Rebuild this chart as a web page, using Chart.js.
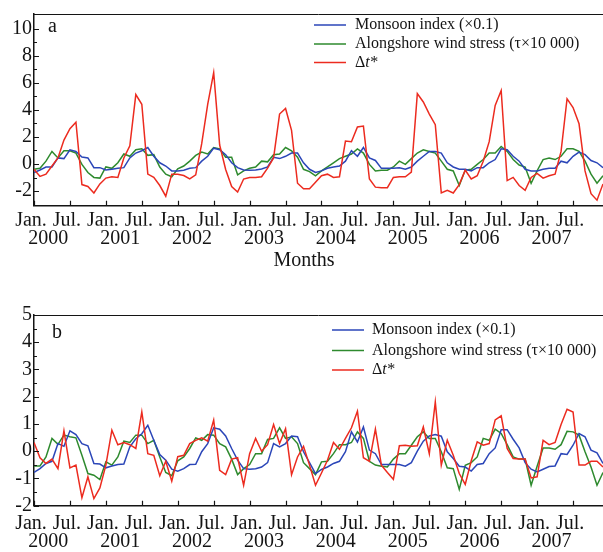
<!DOCTYPE html>
<html>
<head>
<meta charset="utf-8">
<title>Monsoon index, alongshore wind stress and Δt*</title>
<script src="https://cdn.jsdelivr.net/npm/chart.js@4.4.1/dist/chart.umd.min.js"></script>
<style>
    html, body { margin: 0; padding: 0; background: #fff; }
    body { width: 603px; height: 552px; position: relative; overflow: hidden; }
    .panel { position: absolute; left: 0; }
    #wrapA { top: 0; }
    #wrapB { top: 290px; }
</style>
</head>
<body>
<div class="panel" id="wrapA"><canvas id="chartA" width="603" height="280"></canvas></div>
<div class="panel" id="wrapB"><canvas id="chartB" width="603" height="262"></canvas></div>
<script>
// Datos: un valor por mes, desde enero 2000
const monthLabels = ['Jan.', 'Jul.'];
const yearLabels = ['2000', '2001', '2002', '2003', '2004', '2005', '2006', '2007'];
const yTicksA = [-2, 0, 2, 4, 6, 8, 10];
const yTicksB = [-2, -1, 0, 1, 2, 3, 4, 5];
const seriesNames = ['Monsoon index (×0.1)', 'Alongshore wind stress (τ×10 000)', 'Δt*'];

// Panel a
const monsoonA = [
    -0.63, -0.44, -0.22, -0.22, 0.45, 0.40, 1.05, 0.93, 0.52, 0.45, -0.27, -0.27,
    -0.44, -0.39, -0.32, -0.27, 0.45, 0.81, 0.98, 1.22, 0.57, 0.09, -0.15, -0.51,
    -0.51, -0.46, -0.32, -0.27, 0.21, 0.57, 1.17, 1.05, 0.69, 0.09, -0.27, -0.44,
    -0.46, -0.44, -0.37, -0.22, 0.50, 0.40, 0.57, 0.81, 0.81, 0.09, -0.39, -0.63,
    -0.51, -0.32, -0.22, -0.15, 0.21, 0.98, 0.57, 1.22, 0.45, 0.26, -0.32, -0.32,
    -0.32, -0.27, -0.39, -0.22, 0.21, 0.57, 0.93, 0.93, 0.81, 0.09, -0.22, -0.39,
    -0.39, -0.51, -0.27, -0.27, 0.09, 0.33, 1.12, 1.05, 0.57, 0.21, -0.39, -0.51,
    -0.51, -0.39, -0.32, -0.32, 0.21, 0.09, 0.57, 0.88, 0.69, 0.26, 0.09, -0.27
];
const windA = [
    -0.39, -0.32, 0.21, 0.93, 0.45, 0.98, 0.98, 0.81, -0.03, -0.63, -0.99, -1.04,
    -0.22, -0.32, 0.09, 0.74, 0.57, 1.05, 1.12, 0.64, 0.69, -0.22, -0.75, -0.94,
    -0.35, -0.15, 0.21, 0.64, 0.88, 0.74, 1.22, 1.12, 0.50, 0.50, -0.80, -0.51,
    -0.32, -0.22, 0.21, 0.16, 0.69, 0.74, 1.22, 0.98, 0.50, -0.39, -0.56, -0.87,
    -0.51, -0.22, 0.09, 0.40, 0.57, 0.74, 1.12, 0.81, -0.03, -0.51, -0.46, -0.46,
    -0.22, 0.21, -0.03, 0.40, 0.81, 1.05, 0.93, 0.81, 0.21, -0.39, -0.51, -1.59,
    -0.45, -0.39, -0.03, 0.33, 0.81, 0.81, 1.29, 0.93, 0.33, -0.08, -0.22, -1.42,
    -0.50, 0.33, 0.45, 0.33, 0.57, 1.12, 1.12, 0.93, 0.21, -0.75, -1.42, -0.87
];
const dtA = [
    -0.39, -0.92, -0.75, -0.15, 0.45, 1.77, 2.61, 3.09, -1.52, -1.66, -2.14, -1.47,
    -1.04, -0.94, -0.99, 0.45, 1.35, 5.13, 4.41, -0.75, -0.99, -1.59, -2.38, -0.75,
    -0.75, -0.85, -1.10, -0.80, 1.50, 4.40, 6.75, 1.40, -0.40, -1.66, -2.07, -1.11,
    -0.99, -0.99, -0.94, -0.30, 0.45, 3.69, 4.10, 2.49, -1.42, -1.83, -1.83, -1.35,
    -0.87, -0.75, -0.99, -0.94, 1.69, 1.65, 2.73, 2.80, -1.11, -1.71, -1.75, -1.75,
    -0.99, -0.94, -0.94, -0.60, 5.20, 4.58, 3.69, 2.90, -2.14, -1.95, -2.14, -1.52,
    -0.45, -1.11, -0.87, 0.21, 1.65, 4.33, 5.43, -1.23, -0.99, -1.59, -1.95, -0.99,
    -0.70, -1.04, -0.87, -0.75, 0.93, 4.82, 4.17, 2.97, -0.51, -2.19, -2.67, -1.47
];

// Panel b
const monsoonB = [
    -0.78, -0.64, -0.45, -0.37, 0.28, 0.18, 0.75, 0.61, 0.28, 0.20, -0.45, -0.47,
    -0.61, -0.54, -0.49, -0.47, 0.16, 0.46, 0.64, 0.95, 0.40, -0.12, -0.33, -0.66,
    -0.73, -0.64, -0.49, -0.48, -0.02, 0.28, 0.86, 0.81, 0.56, 0.10, -0.33, -0.64,
    -0.66, -0.64, -0.58, -0.42, 0.28, 0.16, 0.28, 0.56, 0.53, -0.02, -0.42, -0.82,
    -0.67, -0.58, -0.45, -0.37, -0.02, 0.71, 0.34, 0.89, 0.04, -0.09, -0.49, -0.49,
    -0.49, -0.49, -0.55, -0.42, 0.00, 0.37, 0.56, 0.61, 0.55, -0.02, -0.27, -0.55,
    -0.58, -0.73, -0.49, -0.45, -0.09, 0.12, 0.79, 0.79, 0.44, 0.12, -0.42, -0.66,
    -0.76, -0.66, -0.56, -0.54, -0.09, -0.12, 0.22, 0.65, 0.53, 0.04, -0.06, -0.45
];
const windB = [
    -0.54, -0.54, -0.21, 0.47, 0.25, 0.59, 0.53, 0.49, -0.15, -0.82, -0.88, -1.04,
    -0.39, -0.51, -0.21, 0.37, 0.32, 0.59, 0.59, 0.28, 0.40, -0.21, -0.78, -0.90,
    -0.35, -0.21, 0.10, 0.49, 0.40, 0.61, 0.59, 0.28, 0.16, -0.29, -0.86, -0.64,
    -0.49, -0.09, -0.09, 0.43, 0.47, 0.86, 0.47, 0.53, 0.28, -0.42, -0.64, -0.86,
    -0.39, -0.37, -0.09, 0.24, 0.24, 0.32, 0.71, 0.47, -0.37, -0.51, -0.55, -0.58,
    -0.29, -0.09, -0.09, 0.22, 0.53, 0.71, 0.47, 0.47, -0.02, -0.61, -0.64, -1.40,
    -0.52, -0.42, -0.21, 0.47, 0.40, 0.81, 0.65, 0.24, -0.21, -0.29, -0.29, -1.25,
    -0.55, 0.12, 0.12, 0.07, 0.24, 0.73, 0.71, 0.59, -0.02, -0.58, -1.25, -0.78
];
const dtB = [
    0.32, -0.24, -0.45, -0.29, -0.64, 0.75, -0.61, -0.51, -1.71, -0.94, -1.74, -1.35,
    -0.51, 0.77, 0.24, 0.32, 0.24, 0.10, 1.44, -0.09, -0.15, -0.90, -0.37, -1.10,
    -0.20, -0.15, 0.28, 0.40, 0.49, 0.37, 1.14, -0.70, -0.86, -0.29, -0.24, -1.25,
    -0.09, 0.47, 0.00, 0.24, 0.98, 0.28, 0.83, -0.86, -0.21, 0.18, -0.51, -1.25,
    -0.80, -0.33, 0.32, 0.07, 0.47, 0.86, 1.47, -0.24, -0.37, 0.81, -0.51, -0.78,
    -1.03, 0.20, 0.22, 0.18, 0.20, 0.89, -0.09, 1.81, -0.51, 0.40, -0.15, -0.82,
    -1.22, -0.35, 0.34, 0.22, 0.28, 1.15, 1.30, 0.10, -0.27, -0.29, -0.29, -0.98,
    -0.94, 0.40, 0.24, 0.32, 0.98, 1.54, 1.44, -0.51, -0.51, -0.37, -0.37, -0.58
];

(function() {
    'use strict';

    const SERIF = '"Liberation Serif", "Times New Roman", serif';
    const INK = '#141414';
    const colors = ['#2b46b8', '#2e8a2e', '#ec2b1f'];

    function toPoints(values) {
        return values.map(function(v, i) {
            return { x: i, y: v };
        });
    }

    // Marcas hacia dentro, borde superior, leyenda y textos sueltos
    const decorPlugin = {
        id: 'decor',
        afterDraw: function(chart, args, o) {
            const ctx = chart.ctx;
            const area = chart.chartArea;
            const xs = chart.scales.x;
            const ys = chart.scales.y;

            ctx.save();
            ctx.strokeStyle = INK;
            ctx.lineWidth = 1;

            ctx.beginPath();
            ctx.moveTo(area.left, area.top + 0.5);
            ctx.lineTo(area.right, area.top + 0.5);
            ctx.stroke();

            ctx.lineWidth = 1.2;
            ctx.beginPath();
            xs.ticks.forEach(function(t) {
                const px = Math.round(xs.getPixelForValue(t.value)) + 0.5;
                ctx.moveTo(px, area.bottom);
                ctx.lineTo(px, area.bottom - 5);
            });
            ys.ticks.forEach(function(t) {
                const py = Math.round(ys.getPixelForValue(t.value)) + 0.5;
                ctx.moveTo(area.left, py);
                ctx.lineTo(area.left + 5, py);
            });
            for (let v = o.minorFrom; v <= o.minorTo + 1e-9; v += o.minorStep * 2) {
                const py = Math.round(ys.getPixelForValue(v)) + 0.5;
                ctx.moveTo(area.left, py);
                ctx.lineTo(area.left + 3, py);
            }
            ctx.stroke();

            // letra del panel
            ctx.fillStyle = INK;
            ctx.textBaseline = 'middle';
            ctx.textAlign = 'left';
            ctx.font = '20px ' + SERIF;
            ctx.fillText(o.letter, o.letterX, o.letterY);

            if (o.title) {
                ctx.textAlign = 'center';
                ctx.fillText(o.title, o.titleX, o.titleY);
            }

            // leyenda
            ctx.textAlign = 'left';
            chart.data.datasets.forEach(function(ds, i) {
                const y = o.legendRows[i];
                ctx.strokeStyle = ds.borderColor;
                ctx.lineWidth = 1.5;
                ctx.beginPath();
                ctx.moveTo(o.legendX1, y);
                ctx.lineTo(o.legendX2, y);
                ctx.stroke();

                ctx.fillStyle = INK;
                if (ds.label === 'Δt*') {
                    let x = o.legendTextX;
                    ctx.font = '16px ' + SERIF;
                    ctx.fillText('Δ', x, y);
                    x += ctx.measureText('Δ').width;
                    ctx.font = 'italic 16px ' + SERIF;
                    ctx.fillText('t', x, y);
                    x += ctx.measureText('t').width + 0.5;
                    ctx.font = '16px ' + SERIF;
                    ctx.fillText('*', x, y);
                } else {
                    ctx.font = '16px ' + SERIF;
                    ctx.fillText(ds.label, o.legendTextX, y);
                }
            });
            ctx.restore();
        }
    };

    function buildPanel(canvasId, p) {
        const ctx = document.getElementById(canvasId).getContext('2d');
        const values = [p.monsoon, p.wind, p.dt];
        const order = [2, 3, 1];

        const datasets = values.map(function(vals, i) {
            return {
                label: seriesNames[i],
                data: toPoints(vals),
                borderColor: colors[i],
                borderWidth: 1.5,
                pointRadius: 0,
                tension: 0,
                fill: false,
                order: order[i]
            };
        });

        return new Chart(ctx, {
            type: 'line',
            data: { datasets: datasets },
            options: {
                responsive: false,
                animation: false,
                devicePixelRatio: 1,
                layout: { padding: { top: p.top, right: 0, bottom: 0, left: 0 } },
                scales: {
                    x: {
                        type: 'linear',
                        position: 'bottom',
                        weight: 0,
                        min: 0,
                        max: 95,
                        grid: { display: false, drawTicks: false },
                        border: { display: true, color: INK, width: 1.5 },
                        afterBuildTicks: function(s) {
                            const t = [];
                            for (let m = 0; m <= 90; m += 6) t.push({ value: m });
                            s.ticks = t;
                        },
                        afterFit: function(s) { s.height = p.monthH; },
                        ticks: {
                            autoSkip: false,
                            maxRotation: 0,
                            padding: p.monthPad,
                            labelOffset: -3,
                            color: INK,
                            font: { family: SERIF, size: 20 },
                            callback: function(v) { return monthLabels[(v % 12) / 6]; }
                        }
                    },
                    xYear: {
                        type: 'linear',
                        position: 'bottom',
                        weight: 1,
                        min: 0,
                        max: 95,
                        grid: { display: false, drawTicks: false },
                        border: { display: false },
                        afterBuildTicks: function(s) {
                            s.ticks = yearLabels.map(function(y, i) { return { value: 2.4 + 12 * i }; });
                        },
                        afterFit: function(s) { s.height = p.yearH; },
                        ticks: {
                            autoSkip: false,
                            maxRotation: 0,
                            padding: p.yearPad,
                            color: INK,
                            font: { family: SERIF, size: 20 },
                            callback: function(v, i) { return yearLabels[i]; }
                        }
                    },
                    y: {
                        type: 'linear',
                        position: 'left',
                        min: p.yMin,
                        max: p.yMax,
                        grid: { display: false, drawTicks: false },
                        border: { display: true, color: INK, width: 1.5 },
                        afterBuildTicks: function(s) {
                            s.ticks = p.yTicks.map(function(v) { return { value: v }; });
                        },
                        afterFit: function(s) { s.width = 34; },
                        ticks: {
                            padding: 2,
                            color: INK,
                            font: { family: SERIF, size: 20 },
                            callback: function(v) { return String(v); }
                        }
                    }
                },
                plugins: {
                    legend: { display: false },
                    tooltip: { enabled: false },
                    decor: p.decor
                }
            },
            plugins: [decorPlugin]
        });
    }

    buildPanel('chartA', {
        monsoon: monsoonA, wind: windA, dt: dtA,
        top: 9, yMin: -3.08, yMax: 11.08, yTicks: yTicksA,
        monthH: 20, monthPad: 3, yearH: 54.3, yearPad: 1.5,
        decor: {
            letter: 'a', letterX: 48, letterY: 27,
            title: 'Months', titleX: 304, titleY: 261,
            minorFrom: -1, minorTo: 9, minorStep: 1,
            legendX1: 314, legendX2: 346, legendTextX: 355,
            legendRows: [25, 44, 62.5]
        }
    });

    buildPanel('chartB', {
        monsoon: monsoonB, wind: windB, dt: dtB,
        top: 25, yMin: -2, yMax: 5, yTicks: yTicksB,
        monthH: 26, monthPad: 6, yearH: 20.3, yearPad: -2,
        decor: {
            letter: 'b', letterX: 52, letterY: 43,
            title: null,
            minorFrom: -1.5, minorTo: 4.5, minorStep: 0.5,
            legendX1: 332, legendX2: 364, legendTextX: 372,
            legendRows: [40, 60.5, 80]
        }
    });
})();
</script>
</body>
</html>
